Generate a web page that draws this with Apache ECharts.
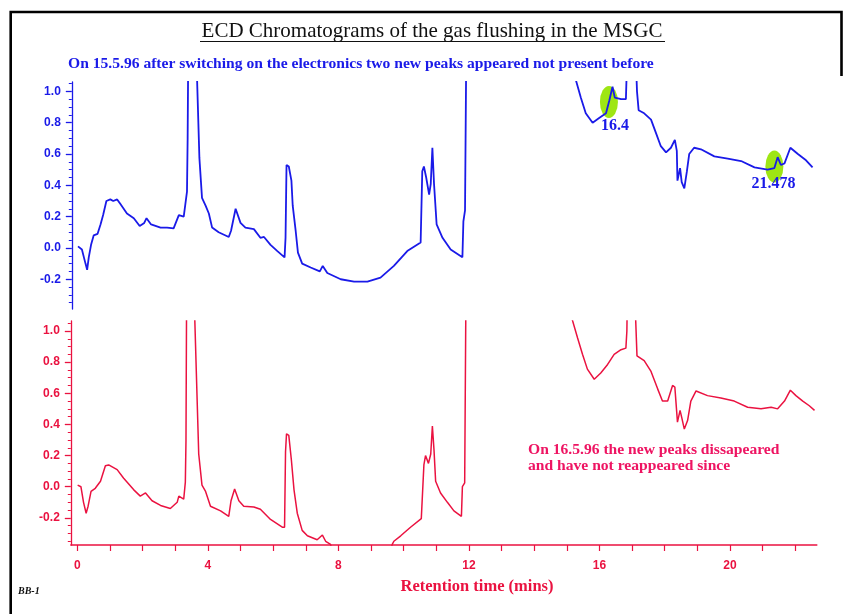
<!DOCTYPE html>
<html>
<head>
<meta charset="utf-8">
<title>ECD Chromatograms</title>
<script src="https://cdn.jsdelivr.net/npm/echarts@6/dist/echarts.min.js"></script>
<style>
  html, body { margin: 0; padding: 0; background: #ffffff; }
  #chart { width: 846px; height: 614px; }
</style>
</head>
<body>
<div id="chart"></div>
<script>
// Retention-time axis (minutes)
const timeLabels = [0, 4, 8, 12, 16, 20];
const timeTicks = [0, 1, 2, 3, 4, 5, 6, 7, 8, 9, 10, 11, 12, 13, 14, 15, 16, 17, 18, 19, 20, 21, 22];

// Detector signal axis
const signalLabels = [-0.2, 0.0, 0.2, 0.4, 0.6, 0.8, 1.0];

// Trace recorded on 15.5.96, after the electronics were switched on  [time, signal]
const run15May = [
  [0.02,0.01],[0.14,-0.01],[0.25,-0.10],[0.30,-0.14],[0.35,-0.06],[0.42,0.02],[0.50,0.08],[0.62,0.09],
  [0.71,0.15],[0.79,0.21],[0.89,0.30],[1.01,0.31],[1.10,0.30],[1.22,0.31],[1.32,0.28],[1.52,0.22],
  [1.73,0.19],[1.91,0.14],[2.05,0.16],[2.12,0.19],[2.26,0.15],[2.55,0.13],[2.75,0.13],[2.95,0.125],
  [3.11,0.21],[3.26,0.20],[3.31,0.28],[3.36,0.36],[3.38,0.70],[3.40,1.30],[3.64,1.30],[3.67,1.07],
  [3.74,0.575],[3.82,0.32],[3.93,0.27],[4.03,0.22],[4.13,0.13],[4.33,0.10],[4.64,0.07],[4.71,0.11],
  [4.85,0.25],[5.00,0.16],[5.15,0.13],[5.41,0.12],[5.61,0.065],[5.72,0.07],[5.92,0.02],[6.13,-0.02],
  [6.35,-0.06],[6.38,0.065],[6.41,0.53],[6.48,0.52],[6.56,0.43],[6.60,0.27],[6.69,0.11],[6.76,-0.03],
  [6.89,-0.10],[7.15,-0.125],[7.43,-0.15],[7.52,-0.115],[7.66,-0.16],[8.07,-0.20],[8.48,-0.215],
  [8.89,-0.215],[9.29,-0.19],[9.70,-0.115],[10.11,-0.02],[10.52,0.035],[10.57,0.49],[10.62,0.52],
  [10.69,0.45],[10.78,0.34],[10.83,0.41],[10.88,0.64],[10.93,0.41],[11.01,0.15],[11.19,0.065],
  [11.44,-0.01],[11.80,-0.06],[11.83,0.17],[11.88,0.24],[11.92,1.30],[15.25,1.30],[15.28,1.07],
  [15.43,0.96],[15.58,0.86],[15.79,0.80],[15.99,0.83],[16.20,0.86],[16.30,0.94],[16.40,1.03],
  [16.47,0.96],[16.66,0.95],[16.81,0.95],[16.86,1.30],[17.10,1.30],[17.15,1.00],[17.20,0.88],
  [17.37,0.86],[17.58,0.82],[17.73,0.735],[17.88,0.65],[18.04,0.61],[18.19,0.64],[18.31,0.69],
  [18.37,0.62],[18.39,0.43],[18.47,0.51],[18.52,0.42],[18.60,0.38],[18.68,0.49],[18.75,0.60],
  [18.90,0.64],[19.11,0.63],[19.52,0.585],[19.93,0.57],[20.34,0.555],[20.75,0.515],[21.15,0.50],
  [21.36,0.51],[21.46,0.58],[21.56,0.53],[21.67,0.54],[21.85,0.64],[22.08,0.60],[22.33,0.56],[22.53,0.515]
];

// Trace recorded on 16.5.96  [time, signal]
const run16May = [
  [0.01,0.01],[0.11,0.0],[0.19,-0.10],[0.27,-0.17],[0.33,-0.125],[0.42,-0.03],[0.55,-0.01],[0.71,0.035],
  [0.86,0.135],[0.96,0.14],[1.22,0.11],[1.42,0.055],[1.73,-0.02],[1.93,-0.06],[2.09,-0.04],[2.29,-0.09],
  [2.55,-0.12],[2.85,-0.14],[3.06,-0.10],[3.11,-0.06],[3.26,-0.08],[3.31,0.03],[3.33,0.30],[3.35,1.30],
  [3.57,1.30],[3.60,1.07],[3.72,0.21],[3.82,0.01],[3.93,-0.03],[4.08,-0.125],[4.39,-0.155],[4.64,-0.19],
  [4.71,-0.09],[4.82,-0.015],[4.95,-0.09],[5.10,-0.125],[5.41,-0.13],[5.61,-0.145],[5.92,-0.21],
  [6.28,-0.26],[6.35,-0.26],[6.38,0.225],[6.41,0.34],[6.48,0.33],[6.56,0.17],[6.64,-0.02],[6.74,-0.17],
  [6.89,-0.28],[7.05,-0.315],[7.35,-0.34],[7.51,-0.31],[7.61,-0.35],[7.76,-0.37],[7.85,-0.45],
  [9.55,-0.45],[9.65,-0.37],[9.70,-0.35],[9.91,-0.315],[10.21,-0.26],[10.54,-0.205],[10.62,0.14],
  [10.67,0.20],[10.76,0.15],[10.83,0.21],[10.88,0.39],[10.93,0.235],[10.98,0.035],[11.13,-0.04],
  [11.34,-0.10],[11.54,-0.155],[11.77,-0.19],[11.80,0.0],[11.87,0.025],[11.91,1.30],[15.12,1.30],
  [15.17,1.07],[15.33,0.955],[15.48,0.85],[15.63,0.755],[15.84,0.69],[16.04,0.73],[16.25,0.785],
  [16.45,0.85],[16.66,0.88],[16.81,0.89],[16.84,1.00],[16.86,1.30],[17.08,1.30],[17.11,1.07],
  [17.15,0.84],[17.37,0.81],[17.58,0.74],[17.78,0.63],[17.93,0.55],[18.09,0.55],[18.24,0.65],
  [18.31,0.64],[18.39,0.415],[18.47,0.49],[18.52,0.445],[18.60,0.37],[18.70,0.425],[18.80,0.55],
  [18.96,0.615],[19.31,0.585],[19.72,0.57],[20.13,0.55],[20.54,0.51],[20.95,0.50],[21.26,0.51],
  [21.46,0.50],[21.67,0.55],[21.85,0.62],[22.02,0.585],[22.23,0.55],[22.43,0.52],[22.59,0.49]
];

// The two new peaks that appeared on 15.5.96  [time, signal]
const newPeakTimes = ['16.4', '21.478'];
const newPeakMarks = [[16.29, 0.933], [21.36, 0.52]];

const BLUE = '#1a1ae8';
const RED = '#ea1240';
const PINK = '#ee1462';
const SERIF = '"Liberation Serif", "Times New Roman", serif';
const SANS = '"Liberation Sans", Arial, sans-serif';

// minor ticks every 0.05 between the labelled 0.2 steps
function minorTicks(lo, hi) {
  const out = [];
  for (let i = Math.ceil(lo / 0.05); i * 0.05 <= hi + 1e-9; i++) {
    if (i % 4 !== 0) out.push(+(i * 0.05).toFixed(2));
  }
  return out;
}

function signalAxes(gridIndex, min, max, color) {
  const base = {
    gridIndex, type: 'value', min, max, position: 'left',
    splitLine: { show: false }
  };
  return [
    Object.assign({}, base, {
      axisLine: { show: true, onZero: false, lineStyle: { color, width: 1.3 } },
      axisTick: { show: true, length: 6, customValues: signalLabels, lineStyle: { color, width: 1.3 } },
      axisLabel: {
        customValues: signalLabels, margin: 11, color,
        fontFamily: SANS, fontWeight: 'bold', fontSize: 12,
        formatter: v => v.toFixed(1)
      }
    }),
    Object.assign({}, base, {
      axisLine: { show: false, onZero: false },
      axisTick: { show: true, length: 3, customValues: minorTicks(min, max), lineStyle: { color, width: 1 } },
      axisLabel: { show: false }
    })
  ];
}

const chart = echarts.init(document.getElementById('chart'), null, { renderer: 'canvas' });

const peakData = newPeakMarks.map((p, i) => ({
  value: p,
  label: { formatter: newPeakTimes[i], offset: i === 0 ? [6, 24] : [-1, 17] }
}));

chart.setOption({
  backgroundColor: '#ffffff',
  animation: false,
  grid: [
    { left: 71.8, top: 82, width: 745, height: 227 },
    { left: 70.8, top: 321, width: 746, height: 224 }
  ],
  xAxis: [
    { gridIndex: 0, type: 'value', min: -0.17, max: 22.66, show: false },
    {
      gridIndex: 1, type: 'value', min: -0.2, max: 22.66, position: 'bottom',
      splitLine: { show: false },
      axisLine: { show: true, onZero: false, lineStyle: { color: RED, width: 1.5 } },
      axisTick: { show: true, length: 6, customValues: timeTicks, lineStyle: { color: RED, width: 1.2 } },
      axisLabel: {
        customValues: timeLabels, margin: 15, color: RED,
        fontFamily: SANS, fontWeight: 'bold', fontSize: 12
      }
    }
  ],
  yAxis: [
    ...signalAxes(0, -0.39, 1.06, BLUE),
    ...signalAxes(1, -0.374, 1.064, RED)
  ],
  series: [
    {
      name: 'New peaks', type: 'scatter', xAxisIndex: 0, yAxisIndex: 0, z: 1,
      symbol: 'circle', symbolSize: [18, 32],
      itemStyle: { color: '#9ee614', opacity: 1 },
      label: {
        show: true, position: 'inside', color: BLUE, opacity: 1,
        fontFamily: SERIF, fontWeight: 'bold', fontSize: 16
      },
      data: peakData
    },
    {
      name: '15.5.96', type: 'line', xAxisIndex: 0, yAxisIndex: 0, z: 3,
      showSymbol: false, clip: true,
      lineStyle: { color: BLUE, width: 1.8 },
      data: run15May
    },
    {
      name: '16.5.96', type: 'line', xAxisIndex: 1, yAxisIndex: 2, z: 3,
      showSymbol: false, clip: true,
      lineStyle: { color: RED, width: 1.5 },
      data: run16May
    }
  ],
  graphic: [
    {
      type: 'polyline', silent: true,
      shape: { points: [[10.7, 614], [10.7, 12], [841.5, 12], [841.5, 76]] },
      style: { stroke: '#000000', lineWidth: 2.6, fill: null }
    },
    {
      type: 'text', x: 432, y: 31,
      style: {
        text: 'ECD Chromatograms of the gas flushing in the MSGC',
        align: 'center', verticalAlign: 'middle', fill: '#111111',
        font: '21px ' + SERIF
      }
    },
    {
      type: 'line', silent: true,
      shape: { x1: 200, y1: 41.5, x2: 665, y2: 41.5 },
      style: { stroke: '#111111', lineWidth: 1.2 }
    },
    {
      type: 'text', x: 68, y: 64,
      style: {
        text: 'On 15.5.96 after switching on the electronics two new peaks appeared not present before',
        align: 'left', verticalAlign: 'middle', fill: BLUE,
        font: 'bold 15.6px ' + SERIF
      }
    },
    {
      type: 'text', x: 528, y: 458,
      style: {
        text: 'On 16.5.96 the new peaks dissapeared\nand have not reappeared since',
        align: 'left', verticalAlign: 'middle', fill: PINK,
        font: 'bold 15.6px ' + SERIF, lineHeight: 16
      }
    },
    {
      type: 'text', x: 477, y: 587,
      style: {
        text: 'Retention time (mins)',
        align: 'center', verticalAlign: 'middle', fill: RED,
        font: 'bold 16.5px ' + SERIF
      }
    },
    {
      type: 'text', x: 18, y: 591,
      style: {
        text: 'BB-1', align: 'left', verticalAlign: 'middle', fill: '#111111',
        font: 'italic bold 10px ' + SERIF
      }
    }
  ]
});
</script>
</body>
</html>
